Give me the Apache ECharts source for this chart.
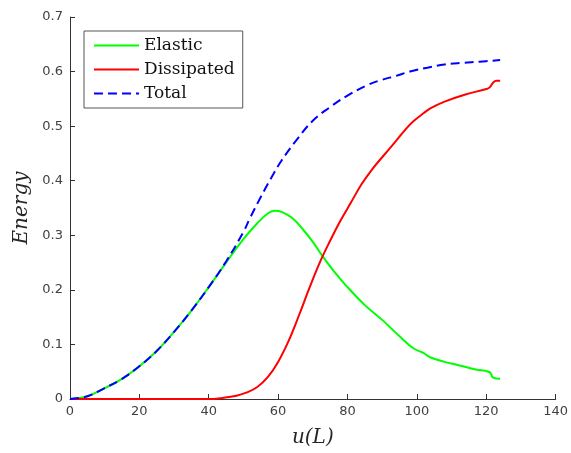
<!DOCTYPE html>
<html>
<head>
<meta charset="utf-8">
<script src="https://cdn.jsdelivr.net/npm/echarts@6/dist/echarts.min.js"></script>
<style>html,body{margin:0;padding:0;background:#fff;}#c{width:571px;height:453px;}</style>
</head>
<body>
<div id="c"></div>
<script>
var elasticX = [0,5,10,15,20,25,30,35,40,45,50,54,57,59,61,64,67,70,73,76,80,85,90,95,99,102,104,108,112,117,121,122,124];
var elasticY = [0,0.005,0.02,0.037,0.06,0.088,0.123,0.162,0.205,0.25,0.293,0.322,0.34,0.345,0.343,0.332,0.312,0.288,0.26,0.235,0.205,0.172,0.145,0.115,0.093,0.084,0.076,0.068,0.062,0.054,0.049,0.039,0.037];
var dissX = [0,40,44,48,51,54,57,60,63,66,69,72,75,78,81,84,87,90,94,97,99,102,104,108,114,120,121,122,123,124];
var dissY = [0,0,0.002,0.006,0.012,0.022,0.04,0.068,0.106,0.153,0.203,0.25,0.29,0.327,0.36,0.393,0.42,0.443,0.473,0.496,0.509,0.524,0.533,0.545,0.558,0.568,0.571,0.58,0.583,0.583];
var totalX = [0,5,10,15,20,25,30,35,40,45,50,52,55,58,61,65,70,75,80,86,90,94,98,103,108,113,118,124];
var totalY = [0,0.005,0.02,0.037,0.06,0.088,0.123,0.162,0.205,0.252,0.306,0.333,0.37,0.405,0.437,0.472,0.51,0.535,0.556,0.576,0.585,0.592,0.6,0.607,0.613,0.616,0.618,0.621];
var seriesNames = ['Elastic','Dissipated','Total'];
var xTicks = {min:0, max:140, interval:20};
var yTicks = {min:0, max:0.7, interval:0.1};

function pairs(xs, ys){ return xs.map(function(x,i){ return [x, ys[i]]; }); }

var chart = echarts.init(document.getElementById('c'), null, {renderer:'canvas'});
var axisCol = '#333';
chart.setOption({
  animation:false,
  backgroundColor:'#fff',
  grid:{left:70, right:14, top:17, bottom:53, containLabel:false},
  xAxis:{
    type:'value', min:xTicks.min, max:xTicks.max, interval:xTicks.interval,
    name:'u(L)', nameLocation:'middle', nameGap:29,
    nameTextStyle:{fontFamily:'DejaVu Serif', fontStyle:'italic', fontSize:20, color:'#262626'},
    axisLine:{show:true, onZero:false, lineStyle:{color:axisCol, width:1}},
    axisTick:{show:true, inside:true, length:5, lineStyle:{color:axisCol}},
    axisLabel:{fontFamily:'DejaVu Sans', fontSize:13, color:'#404040', margin:6},
    splitLine:{show:false}
  },
  yAxis:{
    type:'value', min:yTicks.min, max:yTicks.max, interval:yTicks.interval,
    name:'Energy', nameLocation:'middle', nameGap:36,
    nameTextStyle:{fontFamily:'DejaVu Serif', fontStyle:'italic', fontSize:20, color:'#262626'},
    axisLine:{show:true, onZero:false, lineStyle:{color:axisCol, width:1}},
    axisTick:{show:true, inside:true, length:5, lineStyle:{color:axisCol}},
    axisLabel:{fontFamily:'DejaVu Sans', fontSize:13, color:'#404040', margin:7},
    splitLine:{show:false}
  },
  legend:{
    orient:'vertical', left:84, top:31,
    padding:[6,8,6,9], itemGap:7, itemWidth:45, itemHeight:18,
    backgroundColor:'#fff', borderColor:'#555', borderWidth:1,
    itemStyle:{opacity:0},
    textStyle:{fontFamily:'DejaVu Serif', fontSize:17, color:'#111'},
    data:seriesNames
  },
  series:[
    {name:seriesNames[0], type:'line', data:pairs(elasticX, elasticY), symbol:'none', smooth:0.4,
     lineStyle:{color:'#00ff00', width:2}, itemStyle:{color:'#00ff00'}},
    {name:seriesNames[1], type:'line', data:pairs(dissX, dissY), symbol:'none', smooth:0.4,
     lineStyle:{color:'#ff0000', width:2}, itemStyle:{color:'#ff0000'}},
    {name:seriesNames[2], type:'line', data:pairs(totalX, totalY), symbol:'none', smooth:0.4,
     lineStyle:{color:'#0000ff', width:2, type:[9,5]}, itemStyle:{color:'#0000ff'}}
  ]
});
</script>
</body>
</html>
